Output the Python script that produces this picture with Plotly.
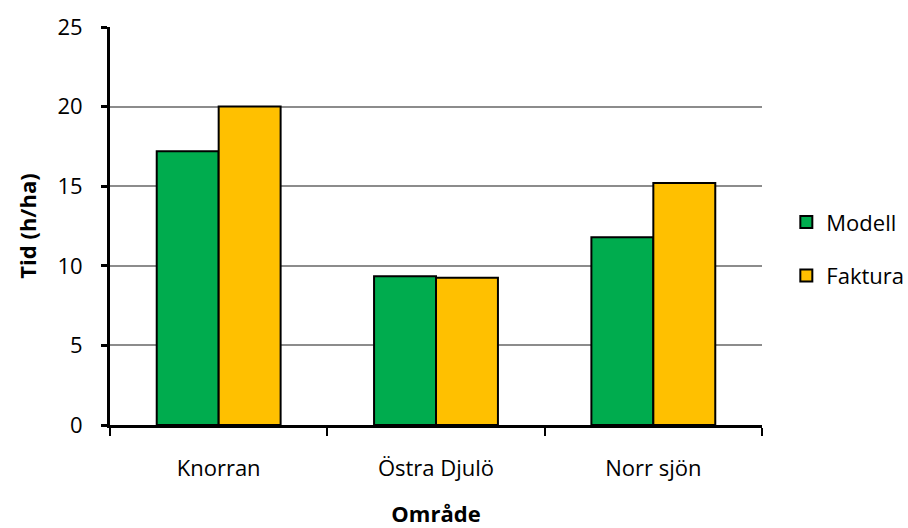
import plotly.graph_objects as go

# Areas and time per hectare (h/ha)
omraden = ["Knorran", "Östra Djulö", "Norr sjön"]
modell = [17.2, 9.35, 11.8]
faktura = [20.0, 9.25, 15.2]
y_ticks = [0, 5, 10, 15, 20, 25]

FONT = "'Open Sans', Lato, sans-serif"
FS = 22

fig = go.Figure()
fig.add_trace(go.Bar(
    name="Modell", x=omraden, y=modell,
    marker=dict(color="#00AC4E", line=dict(color="black", width=2)),
    legendgroup="m",
))
fig.add_trace(go.Bar(
    name="Faktura", x=omraden, y=faktura,
    marker=dict(color="#FFC000", line=dict(color="black", width=2)),
    legendgroup="f",
))

fig.update_layout(
    width=908, height=528,
    margin=dict(l=110, r=146, t=27, b=103, autoexpand=False),
    paper_bgcolor="white", plot_bgcolor="white",
    barmode="group", bargap=0.43, bargroupgap=0,
    font=dict(family=FONT, size=FS, color="black"),
    showlegend=True,
    legend=dict(
        xref="container", yref="container",
        x=0.866, y=0.528, xanchor="left", yanchor="middle",
        font=dict(size=FS, family=FONT),
        tracegroupgap=22, itemsizing="constant",
        bgcolor="rgba(0,0,0,0)",
    ),
)
fig.update_xaxes(
    automargin=False,
    showline=True, linecolor="black", linewidth=3,
    ticks="outside", tickson="boundaries", ticklen=8, tickwidth=2, tickcolor="black",
    tickfont=dict(size=FS), showgrid=False, ticklabelstandoff=22,
    title=dict(text="<b>Område</b>", font=dict(size=FS), standoff=33),
)
fig.update_yaxes(
    automargin=False,
    range=[0, 25], tickvals=y_ticks,
    showline=True, linecolor="black", linewidth=3,
    ticks="outside", ticklen=6, tickwidth=3, tickcolor="black",
    showgrid=True, gridcolor="#8C8C8C", gridwidth=1.5,
    zeroline=False, tickfont=dict(size=FS), ticklabelstandoff=14,
    title=dict(text="<b>Tid (h/ha)</b>", font=dict(size=FS), standoff=15),
)

fig.write_html("out.html")
